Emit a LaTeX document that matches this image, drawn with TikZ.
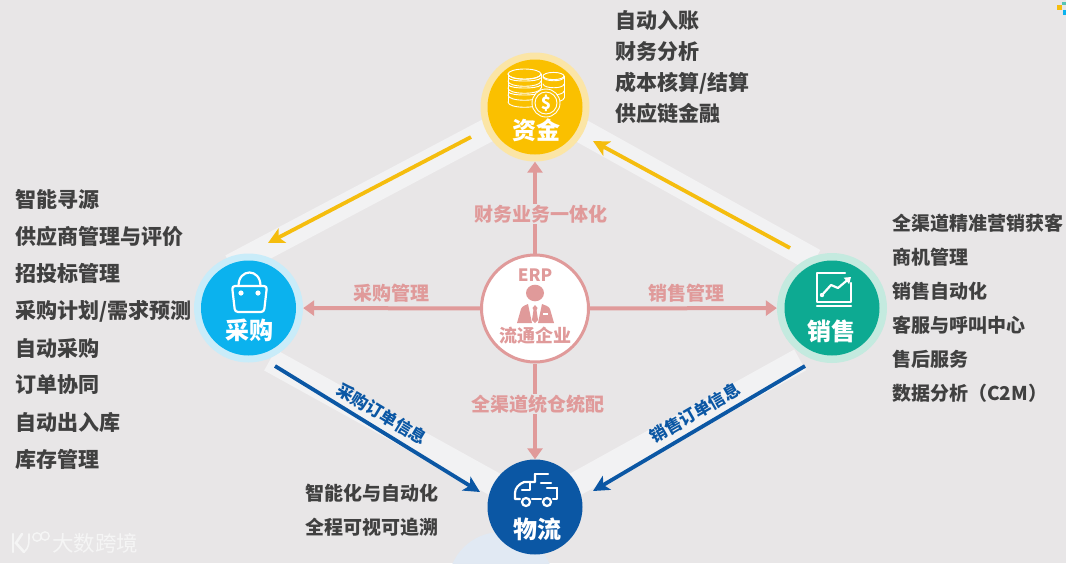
\documentclass[tikz,border=0pt]{standalone}
\usepackage{fontspec}
\setmainfont{Noto Sans CJK SC}
\usetikzlibrary{arrows.meta}
\definecolor{bgc}{HTML}{E8E6E7}
\definecolor{bandc}{HTML}{F2F2F3}
\definecolor{txtc}{HTML}{404040}
\definecolor{pinkc}{HTML}{E09A9A}
\definecolor{yelc}{HTML}{F5BD0E}
\definecolor{bluec}{HTML}{0B57A4}
\definecolor{goldc}{HTML}{FAC000}
\definecolor{goldh}{HTML}{FBE5A6}
\definecolor{skyc}{HTML}{0BB2EE}
\definecolor{skyh}{HTML}{C9ECF9}
\definecolor{tealc}{HTML}{0DAA92}
\definecolor{tealh}{HTML}{C4EADF}
\definecolor{paleb}{HTML}{E1E9F3}
\tikzset{
  x=1pt,y=-1pt,
  fs/.style={font=\fontsize{#1}{#1}\selectfont\bfseries},
  item/.style={anchor=west,inner sep=0pt,text=txtc,fs=#1},
  disc/.style={circle,draw=none,inner sep=0pt,minimum size=#1},
  capt/.style={text=white,inner sep=0pt,fs=24},
  band/.style={draw=bandc,line width=24pt},
  pinkline/.style={draw=pinkc,line width=4pt},
  pinkarrow/.style={pinkline,-{Triangle[length=11pt,width=15pt]}},
  yarrow/.style={draw=yelc,line width=3.8pt,-{Stealth[length=16pt,width=16pt,inset=4pt]}},
  barrow/.style={draw=bluec,line width=3.8pt,-{Stealth[length=16pt,width=16pt,inset=4pt]}},
  plab/.style={text=pinkc,inner sep=1pt,fs=19},
  blab/.style={text=bluec,inner sep=0pt,fs=16.8},
  ico/.style={draw=white,line width=2.2pt,line cap=round,line join=round},
}
\begin{document}
\begin{tikzpicture}
\useasboundingbox (0,0) rectangle (1066,563);
\fill[bgc] (0,0) rectangle (1066,563);
% corner marks
\fill[yelc] (1057,5) rectangle (1062,10);
\fill[tealc!70] (1062,2) rectangle (1066,5);
\fill[skyc] (1063,10) rectangle (1066,15);
% band anchors
\coordinate (bl1) at (231,266);
\coordinate (bl2) at (490,129);
\coordinate (br1) at (580,130);
\coordinate (br2) at (814.5,260.5);
\coordinate (bl3) at (270,360);
\coordinate (bl4) at (495,484.5);
\coordinate (br3) at (800,360);
\coordinate (br4) at (575,484.5);
\draw[band] (bl1) -- (bl2);
\draw[band] (br1) -- (br2);
\draw[band] (bl3) -- (bl4);
\draw[band] (br3) -- (br4);
% pale disc under logistics (clipped by the page)
\begin{scope}
\clip (0,0) rectangle (1066,563);
\fill[paleb] (501,585) circle[radius=53];
\end{scope}
% discs
\node[disc=109pt,fill=goldh] (zijinh) at (535,107) {};
\node[disc=95pt,fill=goldc] (zijin) at (535,107) {};
\node[disc=109pt,fill=skyh] (caigouh) at (248.5,308) {};
\node[disc=95pt,fill=skyc] (caigou) at (248.5,308) {};
\node[disc=110pt,fill=tealh] (xiaoh) at (832,308) {};
\node[disc=95pt,fill=tealc] (xiao) at (832,308) {};
\node[disc=95pt,fill=bluec] (wuliu) at (535,507) {};
\node[disc=107pt,fill=white,draw=pinkc,line width=3pt] (erp) at (535,308.5) {};
% pink connectors
\draw[pinkarrow] (erp) -- (zijinh);
\draw[pinkarrow] (erp) -- (caigouh);
\draw[pinkarrow] (erp) -- (xiaoh);
\draw[pinkarrow] (erp) -- (wuliu);
% yellow and blue arrows
\coordinate (y1a) at (471,137); \coordinate (y1b) at (268,243);
\coordinate (y2a) at (790,248); \coordinate (y2b) at (593,141);
\coordinate (b1a) at (275,366); \coordinate (b1b) at (480,492);
\coordinate (b2a) at (805,366); \coordinate (b2b) at (593,491);
\draw[yarrow] (y1a) -- (y1b);
\draw[yarrow] (y2a) -- (y2b);
\draw[barrow] (b1a) -- (b1b);
\draw[barrow] (b2a) -- (b2b);
% pink labels
\node[plab,fill=bgc] (lab1) at (541,214) {财务业务一体化};
\node[plab,fill=bgc] (lab2) at (538,404) {全渠道统仓统配};
\node[plab] (lab3) at (391,293) {采购管理};
\node[plab] (lab4) at (686,293) {销售管理};
% blue labels
\node[blab,rotate=-31] (lab5) at (382,414) {采购订单信息};
\node[blab,rotate=30] (lab6) at (695,413) {销售订单信息};
% circle captions
\node[capt] (c1) at (536,130) {资金};
\node[capt] (c2) at (249,330) {采购};
\node[capt] (c3) at (831,331) {销售};
\node[capt] (c4) at (537,529) {物流};
\node[text=pinkc,inner sep=0pt,fs=18] (c5) at (535,336) {流通企业};
\node[text=pinkc,inner sep=0pt,fs=17] (c6) at (535,275) {ERP};
% coin icon
\begin{scope}[ico,line width=0.9pt]
  \foreach \yy in {74,81,88,95,102}{\draw (508,\yy) .. controls (508,\yy+7) and (541,\yy+7) .. (541,\yy);}
  \foreach \yy in {78,85,92}{\draw (508.5,\yy) .. controls (510,\yy+4) and (539,\yy+4) .. (540.5,\yy);}
  \draw (524.5,74) ellipse[x radius=16.5,y radius=5];
  \draw (508,74) -- (508,102);
  \draw (541,74) -- (541,88);
  \foreach \yy in {77,84,91,98}{\draw (543,\yy) .. controls (544,\yy+5) and (564,\yy+5) .. (564,\yy);}
  \draw (553.5,76) ellipse[x radius=10.5,y radius=3.6];
  \draw (564,76) -- (564,98);
  \draw[fill=goldc] (546,103) circle[radius=14];
  \draw (546,103) circle[radius=11];
  \node[text=white,draw=none,inner sep=0pt,font=\fontsize{17}{17}\selectfont\bfseries] (dollar) at (546,103) {\$};
\end{scope}
% bag icon
\draw[ico,line width=2.2pt,rounded corners=3pt] (232,286) -- (267,286) -- (264,312) -- (235,312) -- cycle;
\draw[ico,line width=2.2pt] (238.5,286) .. controls (238.5,268) and (260.5,268) .. (260.5,286);
\fill[white] (241,293) circle[radius=2.6] (258,293) circle[radius=2.6];
% chart icon
\draw[ico] (845,273) -- (817,273) -- (817,302) -- (851,302) -- (851,283);
\draw[ico] (817,306) -- (851,306);
\draw[ico,-{Triangle[length=6pt,width=8pt]}] (822,295) -- (831,285) -- (838,288) -- (851,277);
\fill[white] (822,295) circle[radius=2.2];
% truck icon
\draw[ico] (535,474) -- (548,474);
\draw[ico] (535,474) -- (535,482) -- (524,482) .. controls (519,484) and (515,488) .. (515,493) -- (515,499) -- (520,499);
\draw[ico] (532,499) -- (541,499);
\draw[ico] (553,499) -- (557,499) -- (557,488);
\draw[ico] (541,483) -- (551,483);
\draw[ico] (547,488) -- (557,488);
\draw[ico] (522,490) -- (530,490) -- (530,482);
\draw[ico] (526,502) circle[radius=4];
\draw[ico] (547,502) circle[radius=4];
% person icon
\fill[pinkc] (535,293) ellipse[x radius=9,y radius=8.3];
\fill[pinkc] (517,323) -- (521,309) .. controls (522,306) and (526,305) .. (528,304) -- (532,323) -- cycle;
\fill[pinkc] (554,323) -- (550,309) .. controls (549,306) and (544,305) .. (542,304) -- (538,323) -- cycle;
\fill[pinkc] (535,305) -- (537.5,308) -- (536.5,310) -- (538,320) -- (535,323) -- (532,320) -- (533.5,310) -- (532.5,308) -- cycle;
\fill[white] (543,313) rectangle (548,314.5);
% lists
\foreach \t/\yy [count=\i] in {自动入账/21,财务分析/52,成本核算{/}结算/83,供应链金融/113}
  \node[item=21] (top\i) at (615,\yy) {\t};
\foreach \t/\yy [count=\i] in {智能寻源/199,供应商管理与评价/236,招投标管理/273,采购计划{/}需求预测/311,自动采购/348,订单协同/385,自动出入库/422,库存管理/459}
  \node[item=21] (left\i) at (15,\yy) {\t};
\foreach \t/\yy [count=\i] in {全渠道精准营销获客/223,商机管理/257,销售自动化/291,客服与呼叫中心/325,售后服务/359,数据分析（C2M）/393}
  \node[item=19] (right\i) at (892,\yy) {\t};
\foreach \t/\yy [count=\i] in {智能化与自动化/493,全程可视可追溯/527}
  \node[item=19] (bot\i) at (305,\yy) {\t};
% watermark
\begin{scope}[draw=white!96!black,line width=2.6pt,line cap=round]
  \draw (13,534) -- (13,552);
  \draw (22,534) -- (16,543) -- (24,552);
  \draw[line width=1.6pt] (29,534) .. controls (29,544) and (29,548) .. (24,552);
  \draw[line width=1.4pt] (37,537) circle[radius=4.2];
  \draw[line width=1.4pt] (45,536) circle[radius=4.2];
\end{scope}
\node[text=white!96!black,inner sep=0pt,font=\fontsize{21.5}{21.5}\selectfont] (wm) at (95,543) {大数跨境};
\end{tikzpicture}
\end{document}
